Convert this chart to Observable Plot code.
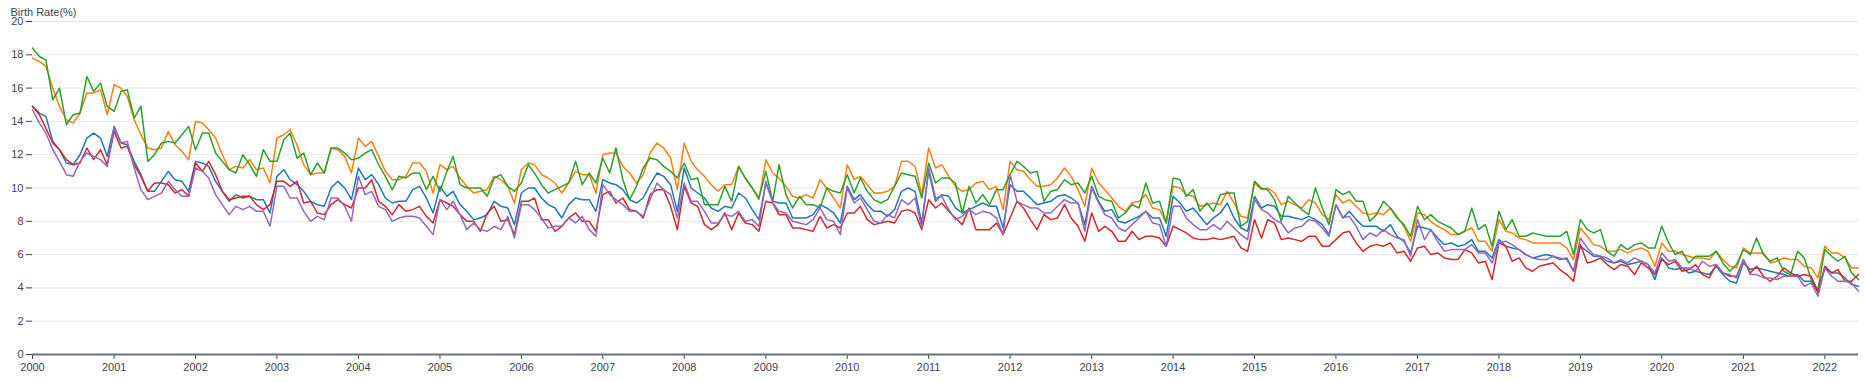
<!DOCTYPE html>
<html>
<head>
<meta charset="utf-8">
<script src="https://cdn.jsdelivr.net/npm/d3@7"></script>
<script src="https://cdn.jsdelivr.net/npm/@observablehq/plot@0.6"></script>
<style>
  html, body { margin: 0; padding: 0; background: #fff; }
  #chart svg { display: block; }
</style>
</head>
<body>
<div id="chart"></div>
<script>
// Monthly birth rate (%), Jan 2000 .. Jun 2022
const startYear = 2000;
const seriesNames = ["Series 1", "Series 2", "Series 3", "Series 4", "Series 5"];
const seriesColors = ["#1f77b4", "#ff7f0e", "#2ca02c", "#d62728", "#9467bd"];
const yTicks = [0, 2, 4, 6, 8, 10, 12, 14, 16, 18, 20];
const yearTicks = [2000,2001,2002,2003,2004,2005,2006,2007,2008,2009,2010,2011,2012,2013,2014,2015,2016,2017,2018,2019,2020,2021,2022];

const series1 = [ // blue
14.9,14.5,14.3,12.8,12.3,11.5,11.4,12.0,13.0,13.3, 13.0,11.9,13.7,12.7,12.6,11.6,10.8,9.8,9.8,10.4, 11.0,10.5,10.4,9.8,11.6,11.5,11.3,10.4,9.8,9.2, 9.6,9.4,9.5,9.3,9.3,8.5,10.7,11.1,10.5,10.2, 9.8,9.2,9.0,
8.9,10.0,10.4,10.0,9.3,11.2,10.5,10.8,10.2,9.4, 9.1,9.2,9.2,9.9,10.1,9.4,8.5,10.1,9.5,9.8, 9.0,8.6,8.1,8.2,8.4,9.2,8.9,8.8,7.8,9.7, 10.0,10.0,9.4,9.0,8.8,8.2,9.0,9.4,9.3,9.3, 8.6,10.5,10.3,10.2,9.9,9.3,
9.1,9.4,10.2,10.9,10.7,10.2,8.6,11.2,10.0,9.7, 9.4,8.8,8.6,8.9,8.8,9.7,9.4,8.7,8.1,10.3, 9.2,9.1,9.1,8.2,8.2,8.2,8.4,9.0,8.8,8.5, 7.9,10.1,9.3,9.6,9.0,8.6,8.6,8.3,8.7,9.8, 10.0,9.8,7.9,11.0,9.2,
9.6,9.5,8.8,8.5,8.7,8.9,9.1,8.9,8.9,7.6, 10.2,9.8,9.8,9.4,9.0,9.1,9.2,9.5,9.6,9.4, 9.1,7.8,10.1,9.2,8.6,8.7,8.0,7.9,8.1,8.3, 8.6,8.2,8.2,7.1,9.5,9.1,8.6,8.8,8.3,7.8, 8.2,8.5,9.1,8.2,7.6,7.4,
9.5,8.8,9.0,8.9,8.3,8.3,8.2,8.1,8.3,8.1, 7.8,7.2,9.0,8.2,8.6,8.1,7.7,7.7,7.7,7.4, 7.8,7.1,6.8,6.1,7.7,7.6,7.5,7.0,6.6,6.7, 6.5,6.6,6.9,6.2,6.2,5.8,6.9,6.5,6.4,6.3, 6.0,5.8,5.9,6.0,5.9,5.7,
5.8,5.0,6.5,6.2,5.9,5.9,5.6,5.5,5.6,5.4, 5.5,5.6,5.4,4.5,5.8,5.2,5.1,5.2,4.9,5.0, 4.9,4.8,5.3,4.8,4.4,4.3,5.5,5.1,5.2,5.1, 5.0,4.9,4.8,4.7,4.8,4.4,4.4,3.8,5.2,4.9, 4.9,4.6,4.2,4.1
];

const series2 = [ // orange
17.8,17.6,17.3,16.0,14.9,14.1,13.9,14.5,15.7,15.7, 15.9,14.4,16.2,16.0,15.5,14.1,13.2,12.4,12.3,12.4, 13.4,12.6,12.2,11.7,14.0,13.9,13.5,13.0,12.0,11.1, 11.3,11.2,11.7,11.1,11.2,10.3,13.0,13.2,13.5,12.6, 11.4,10.8,10.9,
10.9,12.4,12.3,11.9,10.9,13.0,12.5,12.8,11.9,11.0, 10.5,10.5,10.7,11.5,11.5,11.0,9.7,11.4,11.1,11.3, 10.6,10.1,9.7,9.8,9.9,10.7,10.5,10.1,9.1,11.1, 11.5,11.4,10.8,10.6,10.3,9.7,10.3,11.0,10.8,10.8, 9.7,12.0,12.1,12.1,11.3,10.9,
10.3,10.8,12.1,12.7,12.4,11.8,9.9,12.7,11.6,11.1, 10.7,10.2,9.8,10.2,10.2,11.3,10.6,10.0,9.3,11.7, 10.9,10.6,10.1,9.5,9.4,9.6,9.4,10.5,10.0,9.4, 8.8,11.4,10.5,10.7,10.2,9.7,9.7,9.8,10.1,11.6, 11.6,11.3,9.6,12.4,11.2,
11.4,10.7,10.1,9.8,9.9,10.3,10.4,9.9,10.1,8.7, 11.6,11.1,11.0,10.5,10.1,10.1,10.2,10.6,11.2,10.7, 9.9,8.9,11.2,10.3,9.9,9.4,8.9,8.6,9.1,9.2, 9.6,8.8,8.7,7.9,10.1,10.0,9.6,9.5,8.9,9.0, 9.1,9.0,9.8,9.1,8.3,8.2,
10.3,9.9,10.0,9.7,9.0,9.2,9.0,8.8,9.3,9.1, 8.4,8.1,9.6,9.1,9.3,8.9,8.5,8.4,8.5,8.4, 8.8,8.3,7.7,6.8,8.5,8.4,8.0,7.7,7.5,7.2, 7.2,7.4,7.6,6.8,6.8,6.2,8.1,7.4,7.3,7.0, 6.9,6.7,6.7,6.7,6.7,6.7,
6.4,5.7,7.6,7.1,6.6,6.5,6.2,6.2,6.3,6.1, 6.3,6.4,6.2,5.3,6.7,6.2,6.2,6.0,5.9,5.8, 5.8,5.7,6.2,5.7,5.3,5.2,6.4,6.1,6.1,6.1, 5.5,5.6,5.8,5.7,5.7,5.3,5.2,4.6,6.5,6.1, 6.1,5.8,5.2,5.2
];

const series3 = [ // green
18.4,17.9,17.7,15.3,16.0,13.8,14.4,14.5,16.7,15.8, 16.3,14.9,14.6,15.8,15.9,14.2,14.9,11.6,12.0,12.7, 12.8,12.7,13.2,13.7,12.3,13.3,13.3,12.1,11.6,11.1, 10.9,12.0,11.4,10.7,12.3,11.6,11.6,12.9,13.3,11.8, 12.1,10.8,11.5,
10.9,12.4,12.4,12.1,11.7,11.8,12.1,12.3,11.4,10.7, 9.9,10.7,10.6,10.9,10.9,9.9,10.7,9.8,11.0,11.9, 10.2,10.0,10.0,10.0,9.5,10.6,10.8,10.1,9.8,10.3, 11.4,10.9,10.2,9.7,9.9,10.1,10.3,11.6,10.2,10.9, 10.3,11.8,10.9,12.4,10.5,9.3,
10.1,11.2,11.8,11.7,11.3,11.0,10.6,11.5,10.5,10.6, 9.0,9.0,9.0,10.1,9.2,11.3,10.6,10.0,9.4,11.0, 9.2,11.4,9.6,8.8,9.5,9.0,9.0,8.8,10.0,9.8, 9.7,10.8,9.7,10.6,9.8,9.3,9.1,9.3,10.1,10.9, 10.8,10.7,9.4,11.5,10.3,
10.6,10.6,10.3,8.5,10.1,9.1,9.6,9.0,9.9,9.9, 10.8,11.6,11.3,10.9,11.0,9.2,9.8,9.9,10.5,10.2, 10.3,9.7,10.7,9.5,9.3,9.2,8.2,8.5,9.0,8.8, 10.3,9.1,9.2,7.9,10.6,10.5,9.5,9.9,8.6,9.1, 8.6,9.6,9.7,9.7,7.7,8.0,
10.4,10.0,9.9,9.3,8.0,9.5,9.1,8.7,8.4,10.0, 8.8,7.8,9.9,9.6,9.8,9.2,9.2,8.0,8.4,9.2, 8.8,8.2,7.8,7.1,8.9,8.1,8.4,8.0,7.8,7.6, 7.2,7.4,8.8,7.5,7.8,6.5,8.6,7.5,8.1,7.1, 7.1,7.3,7.2,7.1,7.1,7.1,
7.4,6.0,8.1,7.5,7.3,7.5,6.2,5.9,6.6,6.3, 6.6,6.7,6.4,6.4,7.7,6.7,6.0,6.2,5.5,5.9, 5.9,5.9,6.2,5.5,5.0,5.4,6.3,6.0,7.0,6.0, 5.6,5.8,5.0,4.8,6.2,5.8,4.5,3.9,6.3,5.9, 5.6,5.9,4.9,4.5
];

const series4 = [ // red
14.9,14.4,13.6,12.7,12.3,11.7,11.4,11.5,12.4,11.7, 12.3,11.4,13.4,12.4,12.5,11.4,10.7,9.8,10.3,10.3, 10.2,9.7,9.9,9.5,11.5,11.0,11.6,10.8,9.8,9.3, 9.4,9.5,9.5,9.0,8.7,9.0,10.4,10.4,10.1,10.4, 9.1,9.2,8.5,
8.4,9.0,9.3,9.0,8.8,10.0,10.0,10.5,9.2,8.9, 8.4,9.0,8.6,8.7,8.9,8.3,7.9,9.3,9.1,8.9, 8.4,8.0,8.0,7.4,8.5,8.9,8.0,8.1,7.2,9.2, 9.2,9.4,8.1,8.1,7.4,7.7,8.2,8.5,8.0,8.0, 7.4,9.6,9.8,9.1,9.4,8.7,
8.6,8.2,9.6,9.9,9.9,8.9,7.5,10.1,9.1,8.9, 7.8,7.5,7.8,8.5,7.5,8.5,7.9,7.8,7.4,9.2, 9.1,8.4,8.4,7.6,7.6,7.5,7.4,8.3,7.6,7.8, 7.6,8.5,8.5,8.9,8.1,7.8,7.9,8.0,7.9,8.6, 8.7,8.5,7.5,9.3,8.8,
9.1,8.6,8.2,7.8,8.8,7.5,7.5,7.5,7.9,7.2, 8.2,9.2,8.8,8.1,7.5,8.4,8.1,8.2,9.0,8.2, 7.7,6.8,8.5,7.4,7.7,7.4,6.8,6.8,7.4,6.9, 7.1,7.1,7.0,6.5,7.7,7.5,7.3,7.0,6.9,6.9, 7.0,6.9,7.0,7.1,6.4,6.2,
8.1,7.0,8.1,7.9,6.9,7.0,6.9,6.8,7.1,7.1, 6.5,6.5,6.9,7.3,7.4,6.7,6.2,6.5,6.6,6.5, 6.7,6.1,6.2,5.6,6.4,6.5,6.0,6.1,5.8,5.7, 5.7,6.3,6.1,5.5,5.6,4.5,6.7,6.5,5.6,5.8, 5.2,5.0,5.3,5.4,5.5,5.1,
4.8,4.4,6.6,5.5,5.6,5.8,5.4,5.1,5.4,5.3, 4.8,5.5,5.2,4.8,5.7,5.4,5.6,5.0,5.1,5.4, 4.8,4.6,5.4,4.9,4.7,4.7,5.7,4.9,5.3,4.7, 4.4,4.7,5.2,4.9,4.7,4.8,4.7,3.7,5.3,4.9, 5.1,4.4,4.4,4.8
];

const series5 = [ // purple
14.7,13.9,13.3,12.3,11.6,10.8,10.7,11.6,12.1,11.9, 11.7,11.3,13.6,12.7,12.8,11.2,9.9,9.3,9.5,9.7, 10.4,9.9,9.5,9.5,11.2,11.0,10.6,9.6,9.0,8.4, 8.9,8.7,8.9,8.6,8.6,7.7,10.1,10.1,9.4,9.4, 8.6,8.0,8.3,
8.1,9.4,9.4,8.9,8.0,10.7,9.6,9.8,8.9,8.7, 8.0,8.2,8.3,8.3,8.2,7.7,7.2,9.3,8.7,9.2, 8.4,7.5,7.9,7.5,7.4,7.7,7.5,8.3,7.0,9.0, 9.0,8.7,8.2,7.6,7.7,7.7,8.2,7.9,8.3,7.5, 7.1,10.2,9.6,9.3,9.0,8.6,
8.6,8.3,9.3,10.3,9.9,9.6,8.2,10.3,9.2,9.2, 8.6,7.9,7.9,8.4,8.3,8.6,8.0,8.1,7.7,10.4, 9.1,8.6,8.5,8.0,7.9,7.8,8.1,8.8,8.1,8.0, 7.2,10.0,9.1,9.4,8.7,8.0,7.9,8.4,8.2,9.3, 9.0,9.4,7.6,11.2,9.4,
9.5,8.7,8.1,8.3,8.7,8.4,8.6,8.5,8.2,7.2, 10.8,9.2,9.0,8.8,8.8,8.5,8.5,8.9,9.3,9.1, 9.1,7.4,10.0,9.1,8.4,8.2,7.6,7.4,7.8,8.2, 8.6,7.9,7.8,6.5,8.9,8.9,8.2,7.8,7.5,7.5, 7.8,7.5,8.0,7.6,7.2,6.9,
9.3,8.7,8.5,8.1,7.9,7.3,7.6,7.7,8.1,8.0, 7.6,7.1,9.0,8.2,8.3,7.7,6.9,7.3,7.1,7.5, 7.2,7.0,6.9,5.9,8.1,6.9,7.5,6.8,6.2,6.3, 6.3,6.3,6.6,6.1,6.1,5.5,6.7,6.8,6.6,6.3, 6.0,5.8,5.7,5.7,5.9,5.8,
5.7,5.0,7.0,6.4,6.0,5.9,5.8,5.5,5.7,5.5, 5.8,5.6,5.4,4.9,6.1,5.6,5.7,5.2,5.2,5.0, 5.6,5.3,5.4,4.9,4.8,4.6,5.7,4.8,4.8,4.6, 4.6,4.5,4.7,4.7,4.7,4.1,4.3,3.5,5.2,4.7, 4.4,4.4,4.3,3.8
];

const allSeries = [series1, series2, series3, series4, series5];
const rows = [];
allSeries.forEach((vals, s) => {
  vals.forEach((v, m) => {
    rows.push({series: seriesNames[s], date: new Date(Date.UTC(startYear, m, 1)), value: v});
  });
});

const xTickDates = yearTicks.map(y => new Date(Date.UTC(y, 0, 1)));
const font = "'Liberation Sans', Arial, Helvetica, sans-serif";

const chart = Plot.plot({
  width: 1865,
  height: 382,
  marginLeft: 32,
  marginRight: 7,
  marginTop: 21,
  marginBottom: 28,
  style: {fontFamily: font, fontSize: "11px", color: "#3d4350", background: "#fff"},
  x: {type: "utc", domain: [new Date(Date.UTC(startYear, 0, 1)), rows[rows.length - 1].date]},
  y: {domain: [0, 20]},
  color: {domain: seriesNames, range: seriesColors},
  marks: [
    Plot.gridY(yTicks, {stroke: "#e6e6e6", strokeOpacity: 1, strokeWidth: 1}),
    Plot.axisY({ticks: yTicks, tickSize: 6, tickPadding: 3, label: null, stroke: "#3d4350"}),
    Plot.axisX({ticks: xTickDates, tickFormat: d3.utcFormat("%Y"), tickSize: 5, tickPadding: 4, label: null, stroke: "#3d4350"}),
    Plot.ruleY([0], {stroke: "#6b7280", strokeWidth: 2}),
    Plot.lineY(rows, {x: "date", y: "value", z: "series", stroke: "series", strokeWidth: 1.5}),
    Plot.text(["Birth Rate(%)"], {frameAnchor: "top-left", dx: -22, dy: -13, textAnchor: "start", fill: "#3d4350", fontSize: 11})
  ]
});
document.getElementById("chart").appendChild(chart);
</script>
</body>
</html>
